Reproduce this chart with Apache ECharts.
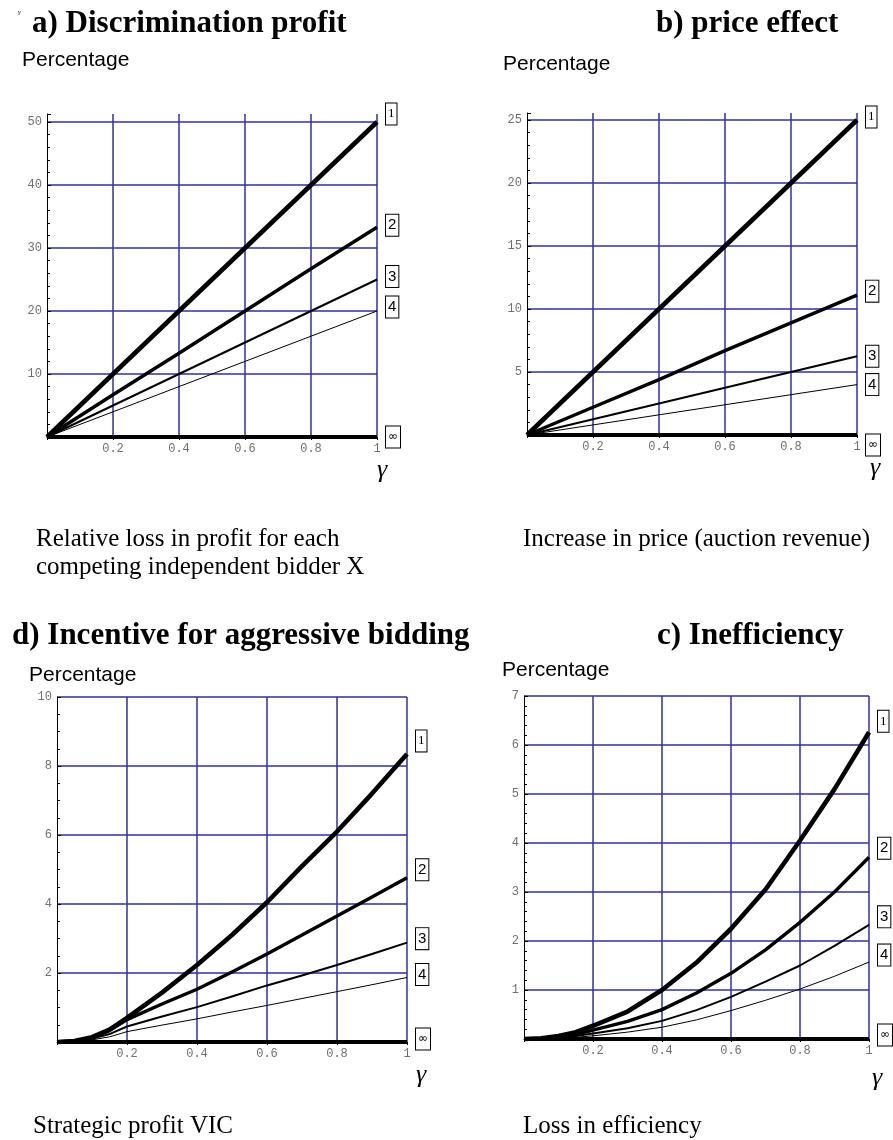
<!DOCTYPE html>
<html>
<head>
<meta charset="utf-8">
<script src="https://cdn.jsdelivr.net/npm/echarts@6/dist/echarts.min.js"></script>
<style>
  html, body { margin: 0; padding: 0; background: #fff; }
  #chart { width: 893px; height: 1140px; }
</style>
</head>
<body>
<div id="chart"></div>
<script>
// Number of bidders labelling each curve
const bidderLabels = ['1', '2', '3', '4', '\u221e'];

// Sample points on the gamma axis
const gammaLinear = [0, 0.2, 0.4, 0.6, 0.8, 1];
const gammaCurve = [0, 0.05, 0.1, 0.15, 0.2, 0.3, 0.4, 0.5, 0.6, 0.7, 0.8, 0.9, 1];

// a) Discrimination profit: relative loss in profit (%)
const profitN1 = [0, 10, 20, 30, 40, 50];
const profitN2 = [0, 6.7, 13.3, 20, 26.7, 33.3];
const profitN3 = [0, 5, 10, 15, 20, 25];
const profitN4 = [0, 4, 8, 12, 16, 20];
const profitInf = [0, 0, 0, 0, 0, 0];

// b) Price effect: increase in price (%)
const priceN1 = [0, 5, 10, 15, 20, 25];
const priceN2 = [0, 2.2, 4.4, 6.7, 8.9, 11.1];
const priceN3 = [0, 1.25, 2.5, 3.75, 5.0, 6.25];
const priceN4 = [0, 0.8, 1.6, 2.4, 3.2, 4.0];
const priceInf = [0, 0, 0, 0, 0, 0];

// d) Incentive for aggressive bidding: strategic profit VIC (%)
const vicN1 = [0, 0.03, 0.14, 0.36, 0.7, 1.43, 2.23, 3.1, 4.05, 5.1, 6.1, 7.2, 8.35];
const vicN2 = [0, 0.03, 0.13, 0.33, 0.65, 1.1, 1.53, 2.03, 2.55, 3.1, 3.65, 4.2, 4.76];
const vicN3 = [0, 0.02, 0.09, 0.23, 0.45, 0.74, 1.01, 1.32, 1.64, 1.93, 2.23, 2.55, 2.88];
const vicN4 = [0, 0.01, 0.06, 0.15, 0.3, 0.49, 0.67, 0.87, 1.06, 1.26, 1.46, 1.66, 1.87];
const vicInf = [0, 0, 0, 0, 0, 0, 0, 0, 0, 0, 0, 0, 0];

// c) Inefficiency: loss in efficiency (%)
const effN1 = [0, 0.015, 0.06, 0.14, 0.27, 0.56, 1.0, 1.56, 2.25, 3.05, 4.05, 5.1, 6.26];
const effN2 = [0, 0.01, 0.04, 0.09, 0.18, 0.36, 0.6, 0.94, 1.34, 1.82, 2.38, 3.0, 3.71];
const effN3 = [0, 0.006, 0.025, 0.06, 0.11, 0.22, 0.37, 0.59, 0.86, 1.17, 1.5, 1.9, 2.33];
const effN4 = [0, 0.004, 0.015, 0.035, 0.065, 0.14, 0.24, 0.39, 0.58, 0.79, 1.02, 1.28, 1.57];
const effInf = [0, 0, 0, 0, 0, 0, 0, 0, 0, 0, 0, 0, 0];

// Panel layout and axis settings (plot sizes chosen so grid lines land on whole pixels)
const panels = [
  { grid: { left: 47, top: 114, width: 330, height: 323 }, yMax: 323 / 6.3, yStep: 10, yMinor: 5,
    x: gammaLinear, ys: [profitN1, profitN2, profitN3, profitN4, profitInf], labelDy: [-8, -2, -3, -4, 0] },
  { grid: { left: 527, top: 113, width: 330, height: 322 }, yMax: 322 / 12.6, yStep: 5, yMinor: 5,
    x: gammaLinear, ys: [priceN1, priceN2, priceN3, priceN4, priceInf], labelDy: [-3, -4, 0, 0, 10] },
  { grid: { left: 57, top: 697, width: 350, height: 345 }, yMax: 10, yStep: 2, yMinor: 4,
    x: gammaCurve, ys: [vicN1, vicN2, vicN3, vicN4, vicInf], labelDy: [-13, -8, -4, -3, -3] },
  { grid: { left: 524, top: 696, width: 345, height: 343 }, yMax: 7, yStep: 1, yMinor: 5,
    x: gammaCurve, ys: [effN1, effN2, effN3, effN4, effInf], labelDy: [-11, -9, -8, -7, -4] }
];

const lineWidths = [4.6, 3.4, 2, 1, 4.2];
const labelFonts = ['Liberation Serif', 'Liberation Sans', 'Liberation Sans', 'Liberation Sans', 'DejaVu Sans'];
const labelSizes = [13, 15, 15, 15, 12];
const gridBlue = '#2f2fa0';
const gridLine = { color: gridBlue, width: 1.5 };
const tickFont = { fontFamily: 'Liberation Mono', fontSize: 12, color: '#707070' };

const grids = [], xAxes = [], yAxes = [], series = [];

function isWholeStep(max, step) {
  return Math.abs(max / step - Math.round(max / step)) < 1e-9;
}

panels.forEach((p, i) => {
  const topIsTick = isWholeStep(p.yMax, p.yStep);
  grids.push(Object.assign({}, p.grid));
  xAxes.push({
    type: 'value', gridIndex: i, min: 0, max: 1, interval: 0.2,
    axisLine: { show: true, onZero: false, lineStyle: { color: '#000', width: 1 } },
    axisTick: { show: true, inside: false, length: 3, lineStyle: { color: '#000' } },
    minorTick: { show: true, splitNumber: 4, length: 2, lineStyle: { color: '#000' } },
    axisLabel: Object.assign({ showMinLabel: false, margin: 6 }, tickFont),
    splitLine: { show: true, showMinLine: false, lineStyle: gridLine }
  });
  yAxes.push({
    type: 'value', gridIndex: i, min: 0, max: p.yMax, interval: p.yStep,
    axisLine: { show: true, onZero: false, lineStyle: { color: '#000', width: 1 } },
    axisTick: { show: true, inside: true, length: 4, lineStyle: { color: '#000' } },
    minorTick: { show: true, splitNumber: p.yMinor, length: 3, lineStyle: { color: '#000' } },
    axisLabel: Object.assign({ showMinLabel: false, showMaxLabel: topIsTick, margin: 5 }, tickFont),
    splitLine: { show: true, showMinLine: false, showMaxLine: topIsTick, lineStyle: gridLine }
  });
  p.ys.forEach((vals, k) => {
    series.push({
      type: 'line', name: bidderLabels[k], xAxisIndex: i, yAxisIndex: i,
      data: p.x.map((g, j) => [g, vals[j]]),
      showSymbol: false, symbol: 'none', clip: false, z: 10 - k + (k === 4 ? 5 : 0),
      lineStyle: { color: '#000', width: lineWidths[k], cap: 'butt', join: 'round' },
      endLabel: {
        show: true, formatter: bidderLabels[k], distance: 9, offset: [0, p.labelDy[k]],
        color: '#000', fontFamily: labelFonts[k], fontSize: labelSizes[k],
        backgroundColor: '#fff', borderColor: '#000', borderWidth: 1,
        padding: [4, 2, 3, 2], lineHeight: 14
      },
      emphasis: { disabled: true }
    });
  });
});

function txt(x, y, text, font) {
  return {
    type: 'text', x: x, y: y, silent: true,
    style: { text: text, font: font, fill: '#000', align: 'left', verticalAlign: 'middle' }
  };
}

const titleFont = 'bold 31px "Liberation Serif"';
const axisTitleFont = '21px "Liberation Sans"';
const captionFont = '25px "Liberation Serif"';
const gammaFont = 'italic 26px "Liberation Serif"';

const graphics = [
  txt(18, 12, '\u03b3', 'italic 7px "Liberation Serif"'),
  txt(32, 24, 'a) Discrimination profit', titleFont),
  txt(656, 24, 'b) price effect', titleFont),
  txt(12, 636, 'd) Incentive for aggressive bidding', titleFont),
  txt(657, 636, 'c) Inefficiency', titleFont),
  txt(22, 60, 'Percentage', axisTitleFont),
  txt(503, 64, 'Percentage', axisTitleFont),
  txt(29, 675, 'Percentage', axisTitleFont),
  txt(502, 670, 'Percentage', axisTitleFont),
  txt(377, 470, '\u03b3', gammaFont),
  txt(870, 468, '\u03b3', gammaFont),
  txt(416, 1075, '\u03b3', gammaFont),
  txt(872, 1078, '\u03b3', gammaFont),
  txt(36, 539, 'Relative loss in profit for each', captionFont),
  txt(36, 567, 'competing independent bidder X', captionFont),
  txt(523, 539, 'Increase in price (auction revenue)', captionFont),
  txt(33, 1126, 'Strategic profit VIC', captionFont),
  txt(523, 1126, 'Loss in efficiency', captionFont)
];

const chart = echarts.init(document.getElementById('chart'), null, { renderer: 'canvas' });
chart.setOption({
  animation: false,
  backgroundColor: '#fff',
  grid: grids,
  xAxis: xAxes,
  yAxis: yAxes,
  series: series,
  graphic: graphics
});
</script>
</body>
</html>
